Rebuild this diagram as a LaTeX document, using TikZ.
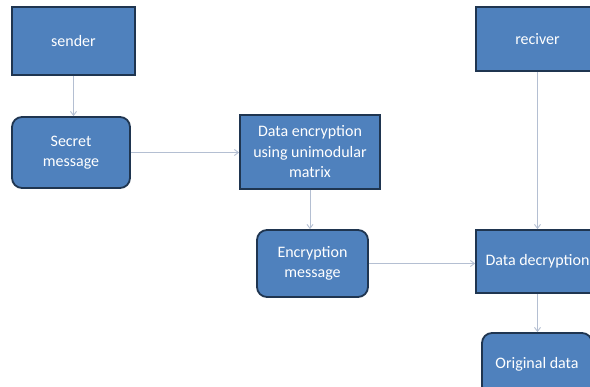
\documentclass[tikz,border=0pt]{standalone}
\usepackage{fontspec}
\setmainfont{Carlito}
\usetikzlibrary{arrows.meta}
\definecolor{boxfill}{HTML}{4F81BD}
\definecolor{boxline}{HTML}{1F3550}
\definecolor{linkcol}{HTML}{B4BFD2}
\tikzset{
  sqbox/.style={draw=boxline, line width=1.8pt, fill=boxfill, text=white,
    align=center, font=\fontsize{16}{20.5}\selectfont, inner sep=2pt},
  rbox/.style={sqbox, rounded corners=10pt},
  link/.style={draw=linkcol, line width=0.9pt, -{Straight Barb[length=4pt,width=6pt]}}
}
\begin{document}
\begin{tikzpicture}[x=1pt, y=-1pt]
  \useasboundingbox (0,0) rectangle (590,387);
  \fill[white] (0,0) rectangle (590,387);
  \clip (0,0) rectangle (590,387);

  \node[sqbox, minimum width=123pt, minimum height=68pt] (sender) at (73.5,41) {sender};
  \node[rbox, minimum width=118pt, minimum height=71pt] (secret) at (71,152.5) {Secret\\message};
  \node[sqbox, minimum width=140pt, minimum height=74pt] (enc) at (310,152) {Data encryption\\using unimodular\\matrix};
  \node[rbox, minimum width=111pt, minimum height=67pt] (encmsg) at (312.5,263.5) {Encryption\\message};
  \node[sqbox, minimum width=123pt, minimum height=64pt] (recv) at (537.5,39) {reciver};
  \node[sqbox, minimum width=123pt, minimum height=63pt] (dec) at (537.5,261.5) {Data decryption};
  \node[rbox, minimum width=110pt, minimum height=63pt] (orig) at (537,364.5) {Original data};

  \draw[link] (sender.south) -- (sender.south |- secret.north);
  \draw[link] (secret.east) -- (secret.east -| enc.west);
  \draw[link] (enc.south) -- (enc.south |- encmsg.north);
  \draw[link] (encmsg.east) -- (encmsg.east -| dec.west);
  \draw[link] (recv.south) -- (recv.south |- dec.north);
  \draw[link] (dec.south) -- (dec.south |- orig.north);
\end{tikzpicture}
\end{document}
